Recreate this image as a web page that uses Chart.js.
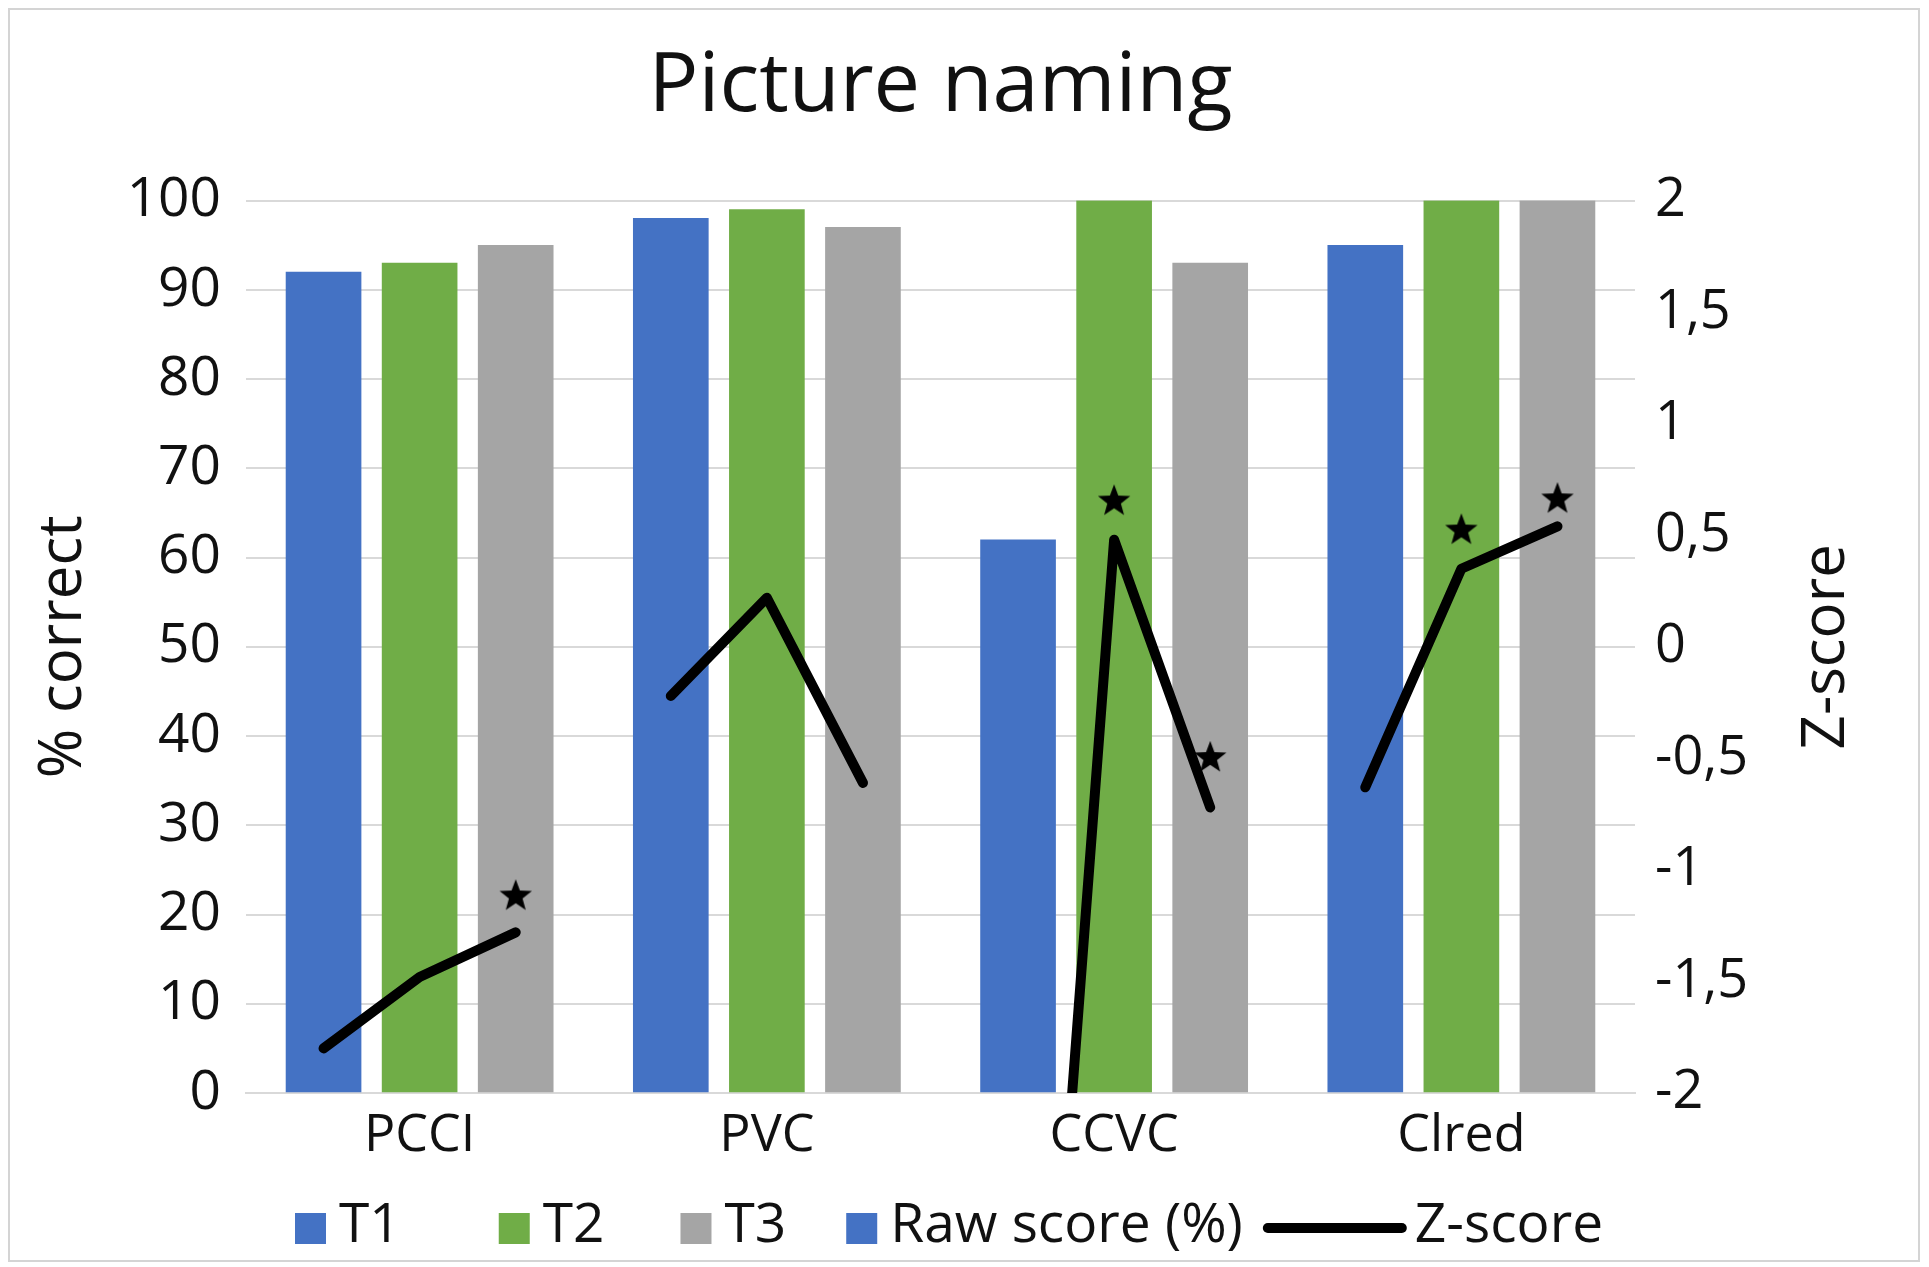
<!DOCTYPE html>
<html>
<head>
<meta charset="utf-8">
<script src="https://cdn.jsdelivr.net/npm/chart.js@4.4.1/dist/chart.umd.min.js"></script>
<style>
  html,body{margin:0;padding:0;background:#fff;}
  #wrap{position:relative;width:1929px;height:1267px;}
</style>
</head>
<body>
<div id="wrap"><canvas id="c"></canvas></div>
<script>
// ── Data ──────────────────────────────────────────────────────────────────────
const categories = ['PCCI', 'PVC', 'CCVC', 'Clred'];
const rawT1 = [92, 98, 62, 95];
const rawT2 = [93, 99, 100, 100];
const rawT3 = [95, 97, 93, 100];
// z-scores per category, T1..T3 (CCVC T1 falls below the axis and is clipped)
const zPCCI  = [-1.80, -1.48, -1.28];
const zPVC   = [-0.22, 0.22, -0.61];
const zCCVC  = [-5.2, 0.48, -0.72];
const zClred = [-0.63, 0.35, 0.54];
// significance stars: category index, trial index, z height of the star
const starCat   = [0, 2, 2, 3, 3];
const starTrial = [2, 1, 2, 1, 2];
const starZ     = [-1.11, 0.66, -0.49, 0.53, 0.67];
const leftTicks = ['0','10','20','30','40','50','60','70','80','90','100'];
const zTicks    = ['-2','-1,5','-1','-0,5','0','0,5','1','1,5','2'];

// ── Style ─────────────────────────────────────────────────────────────────────
const C_T1='#4472C4', C_T2='#70AD47', C_T3='#A5A5A5', GRID='#d9d9d9', INK='#111';
const GROUP_W=0.83;          // share of a category used by the three bars
Chart.defaults.font.family="'Open Sans', sans-serif";
Chart.defaults.color=INK;

// x position (in category units) of bar t inside group g
const slotX=(g,t)=>g+(t-1)*GROUP_W/3;
const barPts=(vals,t)=>vals.map((v,g)=>({x:slotX(g,t),y:v}));

const zRows=[zPCCI,zPVC,zCCVC,zClred];
const zPoints=[];
zRows.forEach((row,g)=>{
  row.forEach((z,t)=>zPoints.push({x:slotX(g,t),y:z}));
  if (g<zRows.length-1) zPoints.push({x:g+0.5,y:null});
});
const starPoints=starCat.map((g,i)=>({x:slotX(g,starTrial[i]),y:starZ[i]}));

function starImage(r) {
  const c=document.createElement('canvas'); c.width=c.height=2*r;
  const g=c.getContext('2d'); g.fillStyle='#000'; g.beginPath();
  for (let k=0;k<10;k++) {
    const rr=k%2?r*0.42:r, a=-Math.PI/2+k*Math.PI/5;
    g.lineTo(r+rr*Math.cos(a), r*1.1+rr*Math.sin(a));
  }
  g.closePath(); g.fill();
  return c;
}

// ── Plugins: frame + bottom legend + right axis title ─────────────────────────
const legendItems=[
  {text:'T1', kind:'box', color:C_T1, gap:98},
  {text:'T2', kind:'box', color:C_T2, gap:76},
  {text:'T3', kind:'box', color:C_T3, gap:60},
  {text:'Raw score (%)', kind:'box', color:C_T1, gap:20},
  {text:'Z-score', kind:'line', color:'#000', gap:0}
];
const extras={
  id:'extras',
  beforeDraw(chart){
    const {ctx,width,height}=chart;
    ctx.save(); ctx.fillStyle='#fff'; ctx.fillRect(0,0,width,height);
    ctx.strokeStyle='#d4d4d4'; ctx.lineWidth=2; ctx.strokeRect(9,9,width-19,height-15);
    ctx.restore();
  },
  afterDraw(chart){
    const {ctx,chartArea}=chart;
    ctx.save();
    ctx.font="55px 'Open Sans', sans-serif"; ctx.textBaseline='middle';
    let x=295; const cy=1228;
    legendItems.forEach(it=>{
      if (it.kind==='box') { ctx.fillStyle=it.color; ctx.fillRect(x,cy-15,31,31); x+=31+13; }
      else {
        ctx.strokeStyle=it.color; ctx.lineWidth=10; ctx.lineCap='round';
        ctx.beginPath(); ctx.moveTo(x+5,cy); ctx.lineTo(x+139,cy); ctx.stroke(); x+=144+8;
      }
      ctx.fillStyle=INK; ctx.fillText(it.text,x,cy-2);
      x+=ctx.measureText(it.text).width+it.gap;
    });
    // right axis title, reading bottom to top
    ctx.translate(1827,(chartArea.top+chartArea.bottom)/2); ctx.rotate(-Math.PI/2);
    ctx.font="60px 'Open Sans', sans-serif"; ctx.textAlign='center'; ctx.fillStyle=INK;
    ctx.fillText('Z-score',0,0);
    ctx.restore();
  }
};

// ── Chart ─────────────────────────────────────────────────────────────────────
const barDs=(label,vals,t,color)=>({label,data:barPts(vals,t),xAxisID:'xz',yAxisID:'y',backgroundColor:color,
  grouped:false,barThickness:75});
new Chart(document.getElementById('c').getContext('2d'),{
  type:'bar',
  data:{labels:categories,datasets:[
    {type:'scatter',label:'sig',data:starPoints,xAxisID:'xz',yAxisID:'yz',pointStyle:starImage(17),pointRadius:17},
    {type:'line',label:'Z-score',data:zPoints,xAxisID:'xz',yAxisID:'yz',borderColor:'#000',borderWidth:10,
     pointRadius:0,borderCapStyle:'round',borderJoinStyle:'round',spanGaps:false,tension:0},
    barDs('T1',rawT1,0,C_T1), barDs('T2',rawT2,1,C_T2), barDs('T3',rawT3,2,C_T3)
  ]},
  options:{
    responsive:true, maintainAspectRatio:false, animation:false,
    layout:{padding:{top:0,left:0,right:0,bottom:100}},
    plugins:{
      legend:{display:false}, tooltip:{enabled:false},
      title:{display:true,fullSize:false,text:'Picture naming',color:INK,font:{size:83,weight:'normal'},padding:{top:38,bottom:63}}
    },
    scales:{
      x:{type:'category',offset:true,grid:{display:false,drawTicks:false},border:{display:true,color:GRID,width:2},
         ticks:{font:{size:52},color:INK,padding:12},afterFit:s=>{s.height=74;}},
      xz:{type:'linear',min:-0.5,max:3.5,offset:false,display:false},
      y:{position:'left',min:0,max:100,
         ticks:{stepSize:10,font:{size:55},color:INK,padding:25,callback:(v,i)=>leftTicks[i]},
         grid:{color:GRID,lineWidth:2,drawTicks:false},border:{display:false},
         title:{display:true,text:'% correct',color:INK,font:{size:60},padding:{top:28,bottom:0}},
         afterFit:s=>{s.width=246;}},
      yz:{position:'right',min:-2,max:2,
         ticks:{stepSize:0.5,font:{size:54},color:INK,padding:20,callback:(v,i)=>zTicks[i]},
         grid:{display:false,drawTicks:false},border:{display:false},
         afterFit:s=>{s.width=294;}}
    }
  },
  plugins:[extras]
});
</script>
</body>
</html>
